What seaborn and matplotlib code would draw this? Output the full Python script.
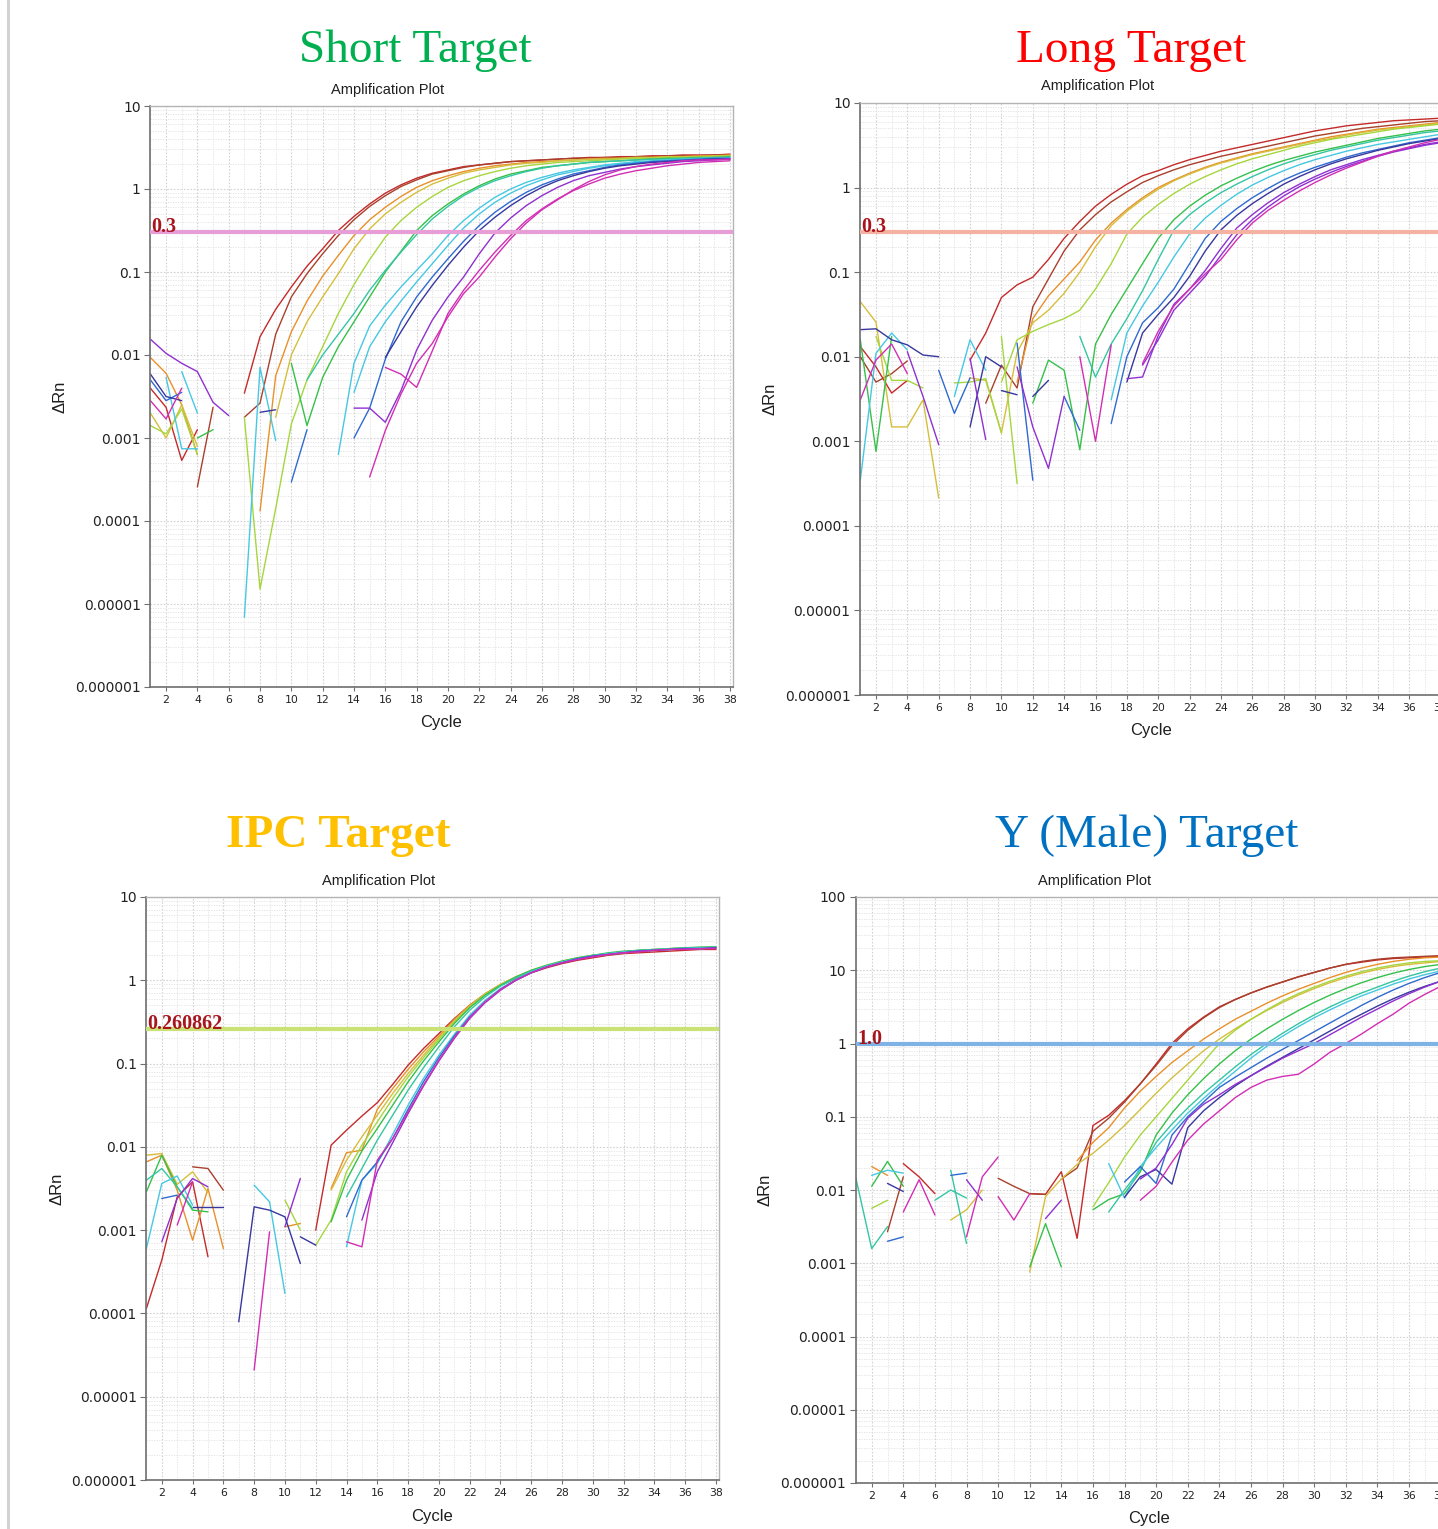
import matplotlib
matplotlib.use("Agg")
import matplotlib.pyplot as plt
from matplotlib.lines import Line2D
from matplotlib.ticker import FixedLocator, MultipleLocator, LogLocator, NullFormatter
import pandas as pd
import seaborn as sns

# ---------------------------------------------------------------
# DATA  (log10 of delta Rn, one value per cycle from the start cycle)
# well colour keys: c0 red ... c11 magenta (dilution series order)
# ---------------------------------------------------------------

# ---- Short target ----
short_wells = ["c0", "c1", "c2", "c3", "c4", "c5", "c6", "c7", "c7", "c8", "c9", "c10", "c11", "c11",
               "c10", "c9", "c11", "c0", "c1", "c2", "c3", "c4", "c7", "c7", "c5", "c8", "c9", "c7", "c8"]
short_start = [7, 7, 8, 9, 7, 10, 11, 13, 14, 14, 16, 14, 16, 15,
               1, 1, 1, 1, 4, 1, 1, 1, 2, 3, 4, 1, 8, 7, 10]
short_log = [
    [-2.46, -1.78, -1.45, -1.18, -0.93, -0.72, -0.50, -0.33, -0.18, -0.05, 0.05, 0.13, 0.19, 0.23, 0.27, 0.29,
     0.31, 0.33, 0.34, 0.35, 0.36, 0.37, 0.38, 0.38, 0.39, 0.39, 0.40, 0.40, 0.41, 0.41, 0.41, 0.42],
    [-2.75, -2.58, -1.75, -1.3, -1.02, -0.78, -0.56, -0.37, -0.21, -0.08, 0.03, 0.11, 0.18, 0.22, 0.26, 0.29,
     0.31, 0.33, 0.34, 0.35, 0.36, 0.37, 0.37, 0.38, 0.38, 0.39, 0.39, 0.40, 0.40, 0.40, 0.41, 0.41],
    [-3.88, -2.25, -1.72, -1.35, -1.05, -0.8, -0.56, -0.37, -0.22, -0.09, 0.02, 0.1, 0.16, 0.21, 0.25, 0.28,
     0.3, 0.32, 0.33, 0.34, 0.35, 0.36, 0.37, 0.37, 0.38, 0.38, 0.39, 0.39, 0.4, 0.4, 0.41],
    [-2.75, -2.0, -1.6, -1.3, -1.02, -0.72, -0.48, -0.3, -0.16, -0.04, 0.06, 0.13, 0.19, 0.23, 0.26, 0.29,
     0.31, 0.32, 0.34, 0.35, 0.36, 0.36, 0.37, 0.38, 0.38, 0.39, 0.39, 0.39, 0.4, 0.4],
    [-2.75, -4.82, -3.85, -2.83, -2.3, -1.9, -1.5, -1.15, -0.85, -0.58, -0.38, -0.22, -0.09, 0.02, 0.1, 0.16,
     0.21, 0.25, 0.28, 0.3, 0.32, 0.33, 0.34, 0.35, 0.36, 0.37, 0.37, 0.38, 0.38, 0.39, 0.39, 0.4],
    [-2.1, -2.85, -2.27, -1.9, -1.6, -1.3, -1.0, -0.75, -0.5, -0.32, -0.18, -0.06, 0.04, 0.12, 0.18, 0.22,
     0.26, 0.28, 0.3, 0.32, 0.33, 0.34, 0.35, 0.36, 0.37, 0.37, 0.38, 0.38, 0.39],
    [-2.3, -2.0, -1.75, -1.5, -1.22, -0.98, -0.76, -0.55, -0.36, -0.21, -0.08, 0.02, 0.1, 0.16, 0.21, 0.25,
     0.28, 0.3, 0.32, 0.33, 0.34, 0.35, 0.36, 0.36, 0.37, 0.37, 0.38, 0.38],
    [-3.2, -2.1, -1.65, -1.4, -1.18, -0.98, -0.78, -0.56, -0.38, -0.23, -0.1, 0.0, 0.08, 0.14, 0.19, 0.23,
     0.26, 0.29, 0.31, 0.33, 0.34, 0.35, 0.36, 0.37, 0.37, 0.38],
    [-2.45, -1.9, -1.6, -1.35, -1.12, -0.9, -0.68, -0.47, -0.3, -0.16, -0.05, 0.04, 0.11, 0.17, 0.21, 0.25,
     0.28, 0.3, 0.32, 0.33, 0.35, 0.35, 0.36, 0.37, 0.37],
    [-3.0, -2.64, -2.05, -1.6, -1.3, -1.06, -0.84, -0.63, -0.44, -0.28, -0.15, -0.04, 0.05, 0.12, 0.18, 0.22,
     0.26, 0.29, 0.31, 0.33, 0.34, 0.35, 0.36, 0.37, 0.37],
    [-2.03, -1.72, -1.42, -1.16, -0.92, -0.7, -0.5, -0.34, -0.2, -0.08, 0.02, 0.1, 0.16, 0.21, 0.25, 0.28,
     0.3, 0.32, 0.33, 0.34, 0.35, 0.36, 0.36],
    [-2.64, -2.64, -2.81, -2.43, -1.94, -1.58, -1.3, -1.06, -0.78, -0.53, -0.35, -0.2, -0.08, 0.02, 0.1, 0.16,
     0.2, 0.24, 0.27, 0.29, 0.31, 0.33, 0.34, 0.35, 0.36],
    [-2.15, -2.23, -2.39, -1.95, -1.5, -1.22, -0.98, -0.76, -0.56, -0.38, -0.24, -0.12, -0.02, 0.06, 0.13, 0.18,
     0.22, 0.25, 0.28, 0.3, 0.32, 0.33, 0.34],
    [-3.47, -2.91, -2.47, -2.1, -1.86, -1.54, -1.26, -1.06, -0.82, -0.6, -0.41, -0.25, -0.13, -0.01, 0.09, 0.17,
     0.23, 0.27, 0.3, 0.32, 0.34, 0.35, 0.35, 0.36],
    [-1.81, -1.98, -2.1, -2.2, -2.57, -2.73],
    [-2.23, -2.5, -2.55],
    [-2.55, -2.77, -2.4],
    [-2.4, -2.63, -3.27, -2.9],
    [-3.59, -2.63],
    [-2.03, -2.22, -2.6, -3.2],
    [-2.7, -3.0, -2.6, -3.1],
    [-2.85, -2.95, -2.65, -3.2],
    [-2.27, -3.13, -3.13],
    [-2.2, -2.7],
    [-3.0, -2.9],
    [-2.3, -2.55, -2.45],
    [-2.69, -2.66],
    [-5.16, -2.15, -3.03],
    [-3.53, -2.9],
]

# ---- Long target ----
long_wells = ["c0", "c1", "c2", "c3", "c4", "c5", "c6", "c7", "c8", "c9", "c10", "c10", "c11",
              "c3", "c9", "c7", "c5", "c4", "c0", "c11", "c10", "c1", "c8", "c7", "c9", "c10", "c4", "c3",
              "c4", "c8", "c10", "c9", "c8", "c11", "c9"]
long_start = [8, 9, 11, 10, 10, 12, 15, 17, 17, 18, 18, 19, 19,
              1, 1, 1, 1, 2, 1, 1, 4, 1, 6, 7, 8, 8, 7, 8,
              10, 11, 11, 12, 14, 15, 10]
long_log = [
    [-2.04, -1.72, -1.3, -1.15, -1.06, -0.85, -0.6, -0.4, -0.22, -0.08, 0.04, 0.14, 0.2, 0.27, 0.33, 0.38,
     0.43, 0.47, 0.51, 0.55, 0.59, 0.63, 0.67, 0.7, 0.73, 0.75, 0.77, 0.79, 0.8, 0.81, 0.82],
    [-2.55, -2.1, -2.37, -1.41, -1.08, -0.75, -0.5, -0.32, -0.17, -0.05, 0.06, 0.14, 0.21, 0.27, 0.32, 0.37,
     0.41, 0.45, 0.49, 0.53, 0.57, 0.61, 0.64, 0.67, 0.7, 0.72, 0.74, 0.76, 0.78, 0.79],
    [-2.3, -1.55, -1.28, -1.08, -0.88, -0.62, -0.42, -0.26, -0.12, 0.0, 0.09, 0.17, 0.24, 0.3, 0.35, 0.4,
     0.44, 0.48, 0.52, 0.56, 0.6, 0.63, 0.66, 0.69, 0.71, 0.73, 0.75, 0.77],
    [-2.9, -1.95, -1.6, -1.45, -1.25, -1.0, -0.7, -0.45, -0.28, -0.14, -0.02, 0.08, 0.16, 0.23, 0.29, 0.34,
     0.39, 0.43, 0.47, 0.51, 0.55, 0.58, 0.62, 0.65, 0.68, 0.7, 0.72, 0.74, 0.76],
    [-2.3, -1.8, -1.7, -1.62, -1.55, -1.45, -1.2, -0.9, -0.55, -0.35, -0.2, -0.07, 0.04, 0.13, 0.21, 0.28,
     0.34, 0.39, 0.44, 0.49, 0.53, 0.57, 0.6, 0.63, 0.66, 0.69, 0.71, 0.73, 0.75],
    [-2.55, -2.04, -2.16, -3.1, -1.85, -1.5, -1.2, -0.9, -0.6, -0.38, -0.22, -0.09, 0.02, 0.11, 0.19, 0.26,
     0.32, 0.37, 0.42, 0.46, 0.5, 0.54, 0.58, 0.61, 0.64, 0.67, 0.69],
    [-1.76, -2.24, -1.85, -1.55, -1.22, -0.85, -0.5, -0.32, -0.18, -0.06, 0.04, 0.13, 0.21, 0.28, 0.34, 0.39,
     0.44, 0.48, 0.52, 0.56, 0.59, 0.62, 0.65, 0.67],
    [-2.51, -1.72, -1.4, -1.12, -0.82, -0.55, -0.36, -0.21, -0.08, 0.03, 0.12, 0.2, 0.27, 0.33, 0.38, 0.43,
     0.47, 0.51, 0.54, 0.57, 0.6, 0.63],
    [-2.79, -2.0, -1.6, -1.42, -1.2, -0.9, -0.6, -0.4, -0.25, -0.12, -0.01, 0.09, 0.17, 0.24, 0.3, 0.36,
     0.41, 0.45, 0.49, 0.53, 0.56, 0.59],
    [-2.3, -1.72, -1.5, -1.3, -1.05, -0.75, -0.5, -0.33, -0.19, -0.07, 0.04, 0.13, 0.21, 0.28, 0.34, 0.39,
     0.44, 0.48, 0.52, 0.55, 0.58],
    [-2.26, -2.24, -1.75, -1.38, -1.2, -0.98, -0.72, -0.48, -0.32, -0.18, -0.06, 0.04, 0.13, 0.21, 0.27, 0.33,
     0.38, 0.43, 0.47, 0.51, 0.54],
    [-2.1, -1.8, -1.45, -1.25, -1.05, -0.8, -0.56, -0.38, -0.23, -0.1, 0.01, 0.1, 0.18, 0.25, 0.31, 0.37,
     0.42, 0.46, 0.5, 0.53],
    [-2.08, -1.7, -1.4, -1.2, -1.02, -0.85, -0.62, -0.42, -0.27, -0.15, -0.04, 0.06, 0.15, 0.23, 0.3, 0.37,
     0.43, 0.48, 0.53, 0.57],
    [-1.35, -1.59, -2.83, -2.83, -2.51, -3.67],
    [-1.68, -1.67, -1.8, -1.86, -1.98, -2.0],
    [-3.46, -1.96, -1.72, -1.92],
    [-1.8, -3.12, -1.76],
    [-1.76, -2.28, -2.28, -2.37],
    [-1.88, -2.12, -2.43, -2.28],
    [-2.51, -2.04, -1.85, -2.2],
    [-1.94, -2.47, -3.04],
    [-2.0, -2.3, -2.2, -2.05],
    [-2.16, -2.67, -2.25],
    [-2.47, -1.8, -2.16],
    [-2.83, -2.0, -2.12],
    [-2.02, -2.98],
    [-2.31, -2.3, -2.26, -2.9],
    [-2.25, -2.28, -2.9],
    [-1.76, -3.5],
    [-1.84, -3.46],
    [-2.12, -2.83, -3.32, -2.47],
    [-2.47, -2.28],
    [-2.47, -2.87],
    [-2.0, -3.0, -1.86],
    [-2.4, -2.45],
]

# ---- IPC target ----
ipc_wells = ["c0", "c2", "c3", "c4", "c5", "c6", "c7", "c8", "c10", "c11",
             "c2", "c0", "c1", "c6", "c7", "c5", "c8", "c9", "c10", "c11", "c3",
             "c9", "c11", "c7", "c10", "c4", "c2", "c9"]
ipc_start = [12, 13, 13, 12, 13, 14, 14, 14, 15, 14,
             1, 1, 4, 1, 1, 1, 2, 4, 2, 3, 1,
             7, 8, 8, 10, 10, 10, 11]
ipc_log = [
    [-3.0, -1.98, -1.8, -1.63, -1.47, -1.25, -1.02, -0.82, -0.64, -0.46, -0.3, -0.17, -0.06, 0.02, 0.09, 0.15,
     0.2, 0.24, 0.27, 0.3, 0.32, 0.33, 0.34, 0.35, 0.36, 0.37, 0.37],
    [-2.5, -2.07, -2.04, -1.55, -1.3, -1.07, -0.86, -0.67, -0.47, -0.3, -0.16, -0.05, 0.04, 0.11, 0.17, 0.22,
     0.26, 0.29, 0.31, 0.33, 0.35, 0.36, 0.37, 0.38, 0.38, 0.39],
    [-2.52, -2.16, -1.88, -1.62, -1.36, -1.12, -0.9, -0.69, -0.49, -0.31, -0.17, -0.05, 0.04, 0.11, 0.17, 0.22,
     0.26, 0.29, 0.31, 0.33, 0.35, 0.36, 0.37, 0.38, 0.38, 0.39],
    [-3.18, -2.88, -2.3, -1.98, -1.7, -1.42, -1.16, -0.93, -0.71, -0.5, -0.32, -0.17, -0.06, 0.04, 0.12, 0.18,
     0.23, 0.27, 0.3, 0.32, 0.34, 0.36, 0.37, 0.38, 0.39, 0.39, 0.4],
    [-2.9, -2.4, -2.05, -1.78, -1.5, -1.22, -0.97, -0.74, -0.52, -0.33, -0.18, -0.06, 0.04, 0.12, 0.18, 0.23,
     0.27, 0.3, 0.33, 0.35, 0.36, 0.37, 0.38, 0.39, 0.4, 0.4],
    [-2.6, -2.26, -1.92, -1.62, -1.32, -1.05, -0.8, -0.56, -0.36, -0.2, -0.07, 0.03, 0.11, 0.17, 0.22, 0.26,
     0.3, 0.32, 0.34, 0.36, 0.37, 0.38, 0.39, 0.39, 0.4],
    [-3.2, -2.4, -2.2, -1.85, -1.5, -1.18, -0.9, -0.65, -0.42, -0.24, -0.1, 0.01, 0.1, 0.17, 0.22, 0.26,
     0.29, 0.32, 0.34, 0.35, 0.36, 0.37, 0.38, 0.39, 0.39],
    [-2.84, -2.4, -2.18, -1.9, -1.55, -1.22, -0.93, -0.67, -0.44, -0.26, -0.11, 0.0, 0.09, 0.16, 0.21, 0.26,
     0.29, 0.31, 0.33, 0.35, 0.36, 0.37, 0.38, 0.38, 0.39],
    [-2.88, -2.3, -1.95, -1.6, -1.27, -0.97, -0.7, -0.46, -0.27, -0.12, 0.0, 0.09, 0.16, 0.21, 0.25, 0.29,
     0.31, 0.33, 0.35, 0.36, 0.37, 0.38, 0.38, 0.39],
    [-3.14, -3.2, -2.16, -1.9, -1.58, -1.26, -0.96, -0.69, -0.45, -0.26, -0.11, 0.0, 0.09, 0.16, 0.21, 0.25,
     0.28, 0.31, 0.33, 0.34, 0.36, 0.37, 0.37, 0.38, 0.38],
    [-2.18, -2.1, -2.52, -3.12, -2.5, -3.22],
    [-3.94, -3.36, -2.6, -2.42, -3.32],
    [-2.24, -2.26, -2.52],
    [-2.4, -2.26, -2.48, -2.74],
    [-3.22, -2.44, -2.35, -2.7],
    [-2.54, -2.1, -2.48, -2.76, -2.78],
    [-2.62, -2.58],
    [-2.72, -2.72, -2.72],
    [-3.14, -2.62, -2.38, -2.48],
    [-2.94, -2.42],
    [-2.1, -2.08, -2.45, -2.3, -2.55],
    [-4.1, -2.72, -2.76, -2.84, -3.4],
    [-4.68, -3.02],
    [-2.46, -2.66, -3.76],
    [-2.96, -2.38],
    [-2.64, -3.0],
    [-2.96, -2.92],
    [-3.08, -3.18],
]

# ---- Y (male) target ----
male_wells = ["c0", "c1", "c2", "c3", "c4", "c5", "c6", "c7", "c8", "c9", "c10", "c11",
              "c6", "c5", "c7", "c2", "c9", "c8", "c4", "c1", "c0", "c11", "c6", "c8", "c10", "c11",
              "c6", "c3", "c1", "c11", "c5", "c10"]
male_start = [12, 14, 15, 12, 16, 16, 17, 17, 18, 18, 19, 19,
              1, 2, 2, 2, 3, 3, 2, 3, 4, 4, 6, 7, 8, 8,
              7, 7, 10, 10, 12, 13]
male_log = [
    [-2.05, -2.06, -1.75, -2.66, -1.12, -0.98, -0.78, -0.55, -0.28, 0.0, 0.2, 0.36, 0.5, 0.6, 0.69, 0.77,
     0.84, 0.91, 0.97, 1.03, 1.08, 1.11, 1.14, 1.16, 1.17, 1.18, 1.19],
    [-1.85, -1.7, -1.2, -1.02, -0.8, -0.55, -0.3, -0.03, 0.18, 0.35, 0.49, 0.6, 0.69, 0.77, 0.84, 0.91,
     0.97, 1.03, 1.08, 1.12, 1.15, 1.17, 1.18, 1.19, 1.2],
    [-1.6, -1.35, -1.15, -0.88, -0.65, -0.45, -0.26, -0.1, 0.06, 0.2, 0.33, 0.44, 0.55, 0.65, 0.74, 0.82,
     0.9, 0.97, 1.03, 1.08, 1.12, 1.15, 1.17, 1.18],
    [-3.12, -2.09, -1.85, -1.65, -1.5, -1.32, -1.12, -0.9, -0.68, -0.47, -0.28, -0.1, 0.06, 0.2, 0.33, 0.45,
     0.56, 0.66, 0.75, 0.83, 0.9, 0.96, 1.01, 1.05, 1.08, 1.1, 1.12],
    [-2.23, -1.9, -1.55, -1.25, -1.0, -0.75, -0.5, -0.25, 0.0, 0.18, 0.33, 0.46, 0.58, 0.68, 0.77, 0.85,
     0.92, 0.98, 1.03, 1.07, 1.1, 1.12, 1.13],
    [-2.27, -2.13, -2.05, -1.75, -1.25, -0.95, -0.7, -0.48, -0.28, -0.1, 0.06, 0.2, 0.33, 0.45, 0.56, 0.66,
     0.75, 0.83, 0.9, 0.96, 1.01, 1.05, 1.08],
    [-2.3, -2.0, -1.72, -1.35, -1.1, -0.88, -0.68, -0.5, -0.32, -0.15, 0.0, 0.14, 0.27, 0.39, 0.5, 0.6,
     0.69, 0.77, 0.85, 0.92, 0.98, 1.03],
    [-1.64, -2.11, -1.68, -1.42, -1.18, -0.95, -0.75, -0.56, -0.38, -0.2, -0.04, 0.1, 0.23, 0.35, 0.46, 0.56,
     0.65, 0.73, 0.81, 0.88, 0.94, 0.99],
    [-1.89, -1.68, -1.91, -1.25, -1.0, -0.8, -0.6, -0.46, -0.33, -0.2, -0.08, 0.04, 0.16, 0.28, 0.4, 0.52,
     0.63, 0.73, 0.82, 0.9, 0.97],
    [-2.1, -1.82, -1.72, -1.92, -1.15, -0.92, -0.74, -0.58, -0.44, -0.31, -0.19, -0.07, 0.05, 0.17, 0.29, 0.4,
     0.51, 0.61, 0.7, 0.78, 0.85],
    [-1.85, -1.7, -1.38, -1.02, -0.83, -0.7, -0.56, -0.44, -0.32, -0.2, -0.1, 0.0, 0.12, 0.24, 0.36, 0.47,
     0.58, 0.68, 0.77, 0.85],
    [-2.14, -1.95, -1.62, -1.32, -1.1, -0.92, -0.74, -0.6, -0.5, -0.45, -0.42, -0.28, -0.12, 0.0, 0.13, 0.27,
     0.4, 0.55, 0.67, 0.78],
    [-1.84, -2.8, -2.5],
    [-1.95, -1.61, -1.95],
    [-1.8, -1.73, -1.77],
    [-1.68, -1.8],
    [-1.91, -2.02],
    [-2.7, -2.64],
    [-2.25, -2.14],
    [-2.57, -1.82],
    [-1.64, -1.82, -2.05],
    [-2.3, -1.86, -2.34],
    [-2.14, -2.0, -2.11],
    [-1.8, -1.77],
    [-1.86, -2.14],
    [-2.64, -1.82, -1.55],
    [-1.73, -2.73],
    [-2.41, -2.27, -2.0],
    [-1.84, -1.95, -2.05, -2.06],
    [-2.09, -2.41, -2.05],
    [-3.05, -2.46, -3.05],
    [-2.39, -2.14],
]

thresholds = [0.3, 0.3, 0.260862, 1.0]
threshold_labels = ["0.3", "0.3", "0.260862", "1.0"]
panel_titles = ["Short Target", "Long Target", "IPC Target", "Y (Male) Target"]
cycle_ticks = list(range(2, 39, 2))

# ---------------------------------------------------------------
# STYLE
# ---------------------------------------------------------------
PALETTE = {
    "c0": "#C42A2A", "c1": "#A8402C", "c2": "#E8902A", "c3": "#D6BE3C",
    "c4": "#A6D63E", "c5": "#36C04A", "c6": "#34C6A2", "c7": "#46C8E2",
    "c8": "#2F6AD0", "c9": "#37379E", "c10": "#9030D0", "c11": "#D22EB4",
}
W, H = 1438, 1529

sns.set_theme(style="white")
plt.rcParams["font.family"] = ["DejaVu Sans"]


def px(x, y):
    return x / W, 1 - y / H


def draw_panel(rect, wells, starts, logs, ymax_exp, thr, thr_label, thr_color):
    left, top, width, bottom = rect
    ax = fig.add_axes([left / W, 1 - bottom / H, width / W, (bottom - top) / H])
    rows = []
    for i, (w, s, vals) in enumerate(zip(wells, starts, logs)):
        for k, v in enumerate(vals):
            rows.append({"frag": i, "well": w, "cycle": s + k, "drn": 10.0 ** v})
    df = pd.DataFrame(rows)

    ax.set_yscale("log")
    sns.lineplot(data=df, x="cycle", y="drn", hue="well", units="frag", estimator=None,
                 palette=PALETTE, legend=False, linewidth=1.0, ax=ax)

    ax.set_xlim(1, 38.2)
    ax.set_ylim(1e-6, 10.0 ** ymax_exp)

    # threshold
    ax.axhline(thr, color=thr_color, lw=3, zorder=5)
    ax.text(0.002, thr, thr_label, transform=ax.get_yaxis_transform(), ha="left", va="baseline",
            family="Liberation Serif", fontweight="bold", fontsize=14.5, color="#A8141C", zorder=6)

    # ticks
    ax.xaxis.set_major_locator(FixedLocator(cycle_ticks))
    ax.xaxis.set_minor_locator(MultipleLocator(1))
    ax.set_xticklabels([str(t) for t in cycle_ticks])
    exps = list(range(-6, ymax_exp + 1))
    ax.yaxis.set_major_locator(FixedLocator([10.0 ** e for e in exps]))
    ax.set_yticklabels([f"{10.0 ** e:.{max(0, -e)}f}" for e in exps])
    ax.yaxis.set_minor_locator(LogLocator(base=10, subs=range(2, 10), numticks=40))
    ax.yaxis.set_minor_formatter(NullFormatter())
    ax.tick_params(axis="y", which="major", labelsize=10, length=4, width=0.8, color="#707070",
                   pad=3, left=True, labelcolor="#222222")
    ax.tick_params(axis="x", which="major", labelsize=7.8, length=3, width=0.8, color="#707070",
                   pad=3, bottom=True, labelcolor="#222222")
    ax.tick_params(which="minor", length=0)

    ax.grid(which="major", axis="both", color="#D2D2D2", ls=(0, (1.5, 1.5)), lw=0.8)
    ax.grid(which="minor", axis="both", color="#E2E2E2", ls=(0, (1.5, 1.5)), lw=0.6)

    for side in ["left", "bottom"]:
        ax.spines[side].set_color("#6E6E6E")
        ax.spines[side].set_linewidth(1.2)
    for side in ["top", "right"]:
        ax.spines[side].set_color("#B4B4B4")
        ax.spines[side].set_linewidth(1.0)

    ax.set_xlabel("")
    ax.set_ylabel("")
    return ax


fig = plt.figure(figsize=(W / 100, H / 100), dpi=100)
fig.patch.set_facecolor("white")

# page border on the left
fig.add_artist(Line2D([8 / W, 8 / W], [0, 1], color="#D2D2D2", lw=2.2))

# rect = (left px, top px, width px, bottom px)
panels = [
    ((150.4, 106, 582.6, 687), short_wells, short_start, short_log, 1, "#E79ED6"),
    ((860.3, 103, 583.3, 695), long_wells, long_start, long_log, 1, "#F3B2A2"),
    ((146.4, 897, 572.6, 1480), ipc_wells, ipc_start, ipc_log, 1, "#C9E276"),
    ((855.9, 897, 587.8, 1483), male_wells, male_start, male_log, 2, "#7FB3E5"),
]
title_colors = ["#00B050", "#FF0000", "#FFC000", "#0070C0"]
title_pos = [(415, 62), (1131, 62), (338, 847), (1147, 847)]
sub_pos = [(388, 90), (1098, 86), (379, 881), (1095, 881)]
xlabel_y = [722, 731, 1516, 1518]
ylabel_x = [60, 770, 57, 765]

for i, (rect, wells, starts, logs, ymax_exp, thr_color) in enumerate(panels):
    ax = draw_panel(rect, wells, starts, logs, ymax_exp, thresholds[i], threshold_labels[i], thr_color)
    left, top, width, bottom = rect

    fig.text(*px(*title_pos[i]), panel_titles[i], ha="center", va="baseline",
             family="Liberation Serif", fontsize=34, color=title_colors[i],
             fontweight="bold" if i == 2 else "normal")
    fig.text(*px(*sub_pos[i]), "Amplification Plot", ha="center", va="center",
             family="Liberation Sans", fontsize=10.5, color="#1E1E1E")
    fig.text(*px(left + width * 0.5 - 0.5, xlabel_y[i]), "Cycle", ha="center", va="center",
             family="Liberation Sans", fontsize=12, color="#1E1E1E")
    fig.text(*px(ylabel_x[i], (top + bottom) / 2), "ΔRn", ha="center", va="center", rotation=90,
             family="Liberation Sans", fontsize=12, color="#1E1E1E")

fig.savefig("out.png", dpi=100, facecolor="white")
plt.close(fig)
